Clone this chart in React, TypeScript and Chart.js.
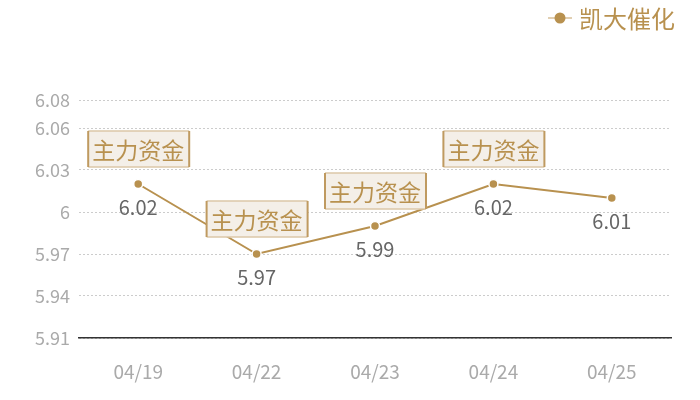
import { useEffect, useRef } from 'react';
import { Chart, registerables } from 'chart.js';

Chart.register(...registerables);

const dates = ['04/19', '04/22', '04/23', '04/24', '04/25'];
const prices = [6.02, 5.97, 5.99, 6.02, 6.01];
const tags = ['主力资金', '主力资金', '主力资金', '主力资金', ''];
const yTicks = [5.91, 5.94, 5.97, 6, 6.03, 6.06, 6.08];
const seriesName = '凯大催化';

const gold = '#b8914f';
const cjk = '"Noto Sans CJK SC", "Noto Sans", sans-serif';

// legend drawn by hand: line + dot marker, right-aligned at the top
const legendPlugin = {
  id: 'topLegend',
  afterDraw(chart: Chart) {
    const ctx = chart.ctx;
    const y = 18;
    ctx.save();
    ctx.strokeStyle = '#d7bf98';
    ctx.lineWidth = 1.5;
    ctx.beginPath();
    ctx.moveTo(548, y);
    ctx.lineTo(572, y);
    ctx.stroke();
    ctx.fillStyle = gold;
    ctx.beginPath();
    ctx.arc(560, y, 5.5, 0, Math.PI * 2);
    ctx.fill();
    ctx.font = `24px ${cjk}`;
    ctx.textAlign = 'left';
    ctx.textBaseline = 'middle';
    ctx.fillText(seriesName, 579, y + 1);
    ctx.restore();
  },
};

const tagPlugin = {
  id: 'tags',
  afterDatasetsDraw(chart: Chart) {
    const ctx = chart.ctx;
    const meta = chart.getDatasetMeta(0);
    ctx.save();
    meta.data.forEach((pt, i) => {
      const { x, y } = pt.getProps(['x', 'y'], true) as { x: number; y: number };
      ctx.font = `20px ${cjk}`;
      ctx.fillStyle = '#666';
      ctx.textAlign = 'center';
      ctx.textBaseline = 'middle';
      ctx.fillText(String(prices[i]), x, y + 23);
      if (tags[i]) {
        const w = 101;
        const h = 36;
        const left = x - 50;
        const top = y - 17 - h;
        ctx.fillStyle = '#f4efe8';
        ctx.fillRect(left, top, w, h);
        ctx.strokeStyle = '#dcc8a8';
        ctx.lineWidth = 1.5;
        ctx.beginPath();
        ctx.moveTo(left, top);
        ctx.lineTo(left + w, top);
        ctx.moveTo(left, top + h);
        ctx.lineTo(left + w, top + h);
        ctx.stroke();
        ctx.strokeStyle = '#bf9a60';
        ctx.lineWidth = 2;
        ctx.beginPath();
        ctx.moveTo(left, top);
        ctx.lineTo(left, top + h);
        ctx.moveTo(left + w, top);
        ctx.lineTo(left + w, top + h);
        ctx.stroke();
        ctx.font = `23px ${cjk}`;
        ctx.fillStyle = gold;
        ctx.fillText(tags[i], x, top + h / 2 + 1);
      }
    });
    ctx.restore();
  },
};

export default function App(): JSX.Element {
  const canvasRef = useRef<HTMLCanvasElement | null>(null);

  useEffect(() => {
    document.body.style.margin = '0';
    if (!canvasRef.current) return;
    const chart = new Chart(canvasRef.current, {
      type: 'line',
      data: {
        labels: dates,
        datasets: [
          {
            label: seriesName,
            data: prices,
            borderColor: gold,
            backgroundColor: gold,
            borderWidth: 2,
            pointRadius: 4.5,
            pointBorderColor: '#fff',
            pointBorderWidth: 1.5,
            pointBackgroundColor: gold,
            tension: 0,
          },
        ],
      },
      options: {
        animation: false,
        responsive: false,
        layout: { padding: { top: 100, right: 29, left: 0, bottom: 0 } },
        plugins: {
          tooltip: { enabled: false },
          legend: { display: false },
        },
        scales: {
          x: {
            offset: true,
            grid: { display: false, drawTicks: false },
            border: { color: '#333', width: 1.5 },
            afterFit: (scale) => {
              scale.height = 62;
            },
            ticks: { color: '#aaa', font: { family: cjk, size: 19 }, padding: 22 },
          },
          y: {
            min: 5.91,
            max: 6.08,
            afterBuildTicks: (scale) => {
              scale.ticks = yTicks.map((v) => ({ value: v }));
            },
            afterFit: (scale) => {
              scale.width = 79;
            },
            grid: { color: '#ccc', drawTicks: false },
            border: { display: false, dash: [2, 2] },
            ticks: {
              color: '#aaa',
              font: { family: cjk, size: 18 },
              padding: 9,
              callback: (v) => String(v),
            },
          },
        },
      },
      plugins: [tagPlugin, legendPlugin],
    });
    return () => chart.destroy();
  }, []);

  return <canvas ref={canvasRef} width={700} height={400} style={{ display: 'block' }} />;
}
